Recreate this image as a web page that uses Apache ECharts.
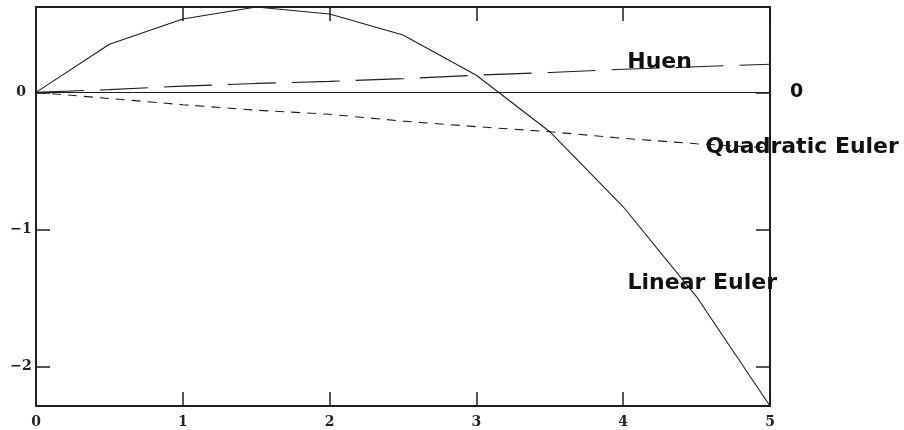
<!DOCTYPE html>
<html>
<head>
<meta charset="utf-8">
<script src="https://cdn.jsdelivr.net/npm/echarts@6/dist/echarts.min.js"></script>
<style>html,body{margin:0;padding:0;background:#fff}#c{width:904px;height:430px}</style>
</head>
<body>
<div id="c"></div>
<script>
var xValues = [0, 0.5, 1, 1.5, 2, 2.5, 3, 3.5, 4, 4.5, 5];
var linearEuler = [0, 0.35, 0.534, 0.622, 0.571, 0.418, 0.125, -0.287, -0.834, -1.49, -2.286];
var huen = [0, 0.02, 0.045, 0.065, 0.08, 0.1, 0.125, 0.145, 0.168, 0.187, 0.205];
var quadraticEuler = [0, -0.045, -0.09, -0.13, -0.16, -0.21, -0.25, -0.287, -0.335, -0.375, -0.405];
var xTicks = [0, 1, 2, 3, 4, 5];
var yTicks = [0, -1, -2];
var seriesNames = ['Linear Euler', 'Huen', 'Quadratic Euler'];

function pairs(ys) { return xValues.map(function (x, i) { return [x, ys[i]]; }); }

var ink = '#1e1e1e';
var tickFont = { fontFamily: 'DejaVu Serif', fontSize: 14, fontWeight: 'bold', color: '#222' };
var nameFont = { fontFamily: 'DejaVu Sans', fontSize: 22, fontWeight: 'bold', color: '#111' };

function axisCommon(showLabel, isY, pos) {
  return {
    type: 'value',
    position: pos,
    min: isY ? -2.286 : 0,
    max: isY ? 0.622 : 5,
    axisLine: { show: true, onZero: false, lineStyle: { color: ink, width: 2 } },
    axisTick: { show: true, inside: true, length: 14, lineStyle: { color: ink, width: 1.5 }, customValues: isY ? yTicks : xTicks },
    axisLabel: Object.assign({ show: showLabel, customValues: isY ? yTicks : xTicks, margin: isY ? 15 : 9, align: 'center',
      formatter: function (v) { return v < 0 ? '\u2212' + Math.abs(v) : String(v); } }, tickFont),
    splitLine: { show: false }
  };
}

function labelPoint(name, coord) {
  return {
    symbol: 'circle', symbolSize: 1, itemStyle: { color: 'rgba(0,0,0,0)' },
    label: Object.assign({ show: true, position: 'right', distance: 0, formatter: name }, nameFont),
    data: [{ coord: coord }]
  };
}

var chart = echarts.init(document.getElementById('c'));
chart.setOption({
  animation: false,
  backgroundColor: '#fff',
  grid: { left: 36, top: 7, right: 134, bottom: 24, containLabel: false },
  xAxis: [axisCommon(true, false, 'bottom'), axisCommon(false, false, 'top')],
  yAxis: [axisCommon(true, true, 'left'), axisCommon(false, true, 'right')],
  series: [
    {
      name: seriesNames[0], type: 'line', data: pairs(linearEuler), symbol: 'none',
      lineStyle: { color: ink, width: 1.1 },
      markPoint: labelPoint(seriesNames[0], [4.026, -1.39]),
      markLine: {
        silent: true, symbol: 'none',
        lineStyle: { color: ink, width: 1, type: 'solid' },
        label: Object.assign({ show: true, position: 'end', distance: 20, formatter: '0' }, nameFont, { fontSize: 19 }),
        data: [{ yAxis: 0 }]
      }
    },
    {
      name: seriesNames[1], type: 'line', data: pairs(huen), symbol: 'none',
      lineStyle: { color: ink, width: 1.1, type: [48, 16] },
      markPoint: labelPoint(seriesNames[1], [4.024, 0.221])
    },
    {
      name: seriesNames[2], type: 'line', data: pairs(quadraticEuler), symbol: 'none',
      lineStyle: { color: ink, width: 1.1, type: [9, 7] },
      markPoint: labelPoint(seriesNames[2], [4.557, -0.399])
    }
  ]
});
</script>
</body>
</html>
